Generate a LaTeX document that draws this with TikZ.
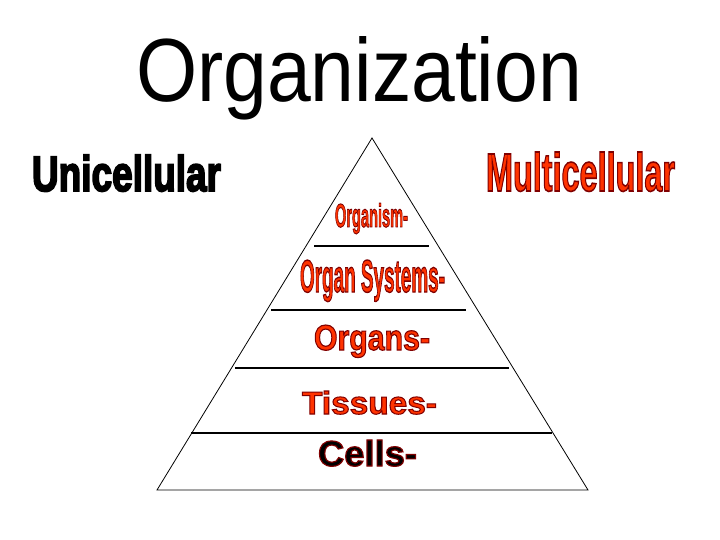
\documentclass[tikz,border=0pt]{standalone}
\usepackage{fontspec}
\setmainfont{Liberation Sans}
\usepackage{graphicx}
\newfontfamily\heavyf[FakeBold=4]{Liberation Sans Bold}
\newfontfamily\impactf[FakeBold=3]{Liberation Sans Bold}
\newfontfamily\blackf[FakeBold=3.2]{Liberation Sans Bold}
\definecolor{orred}{HTML}{FF3300}
\newcommand{\fitbox}[3]{\resizebox{#1bp}{#2bp}{#3}}
% fill colour #1, stroke (outline) colour given as PDF rgb triple #2, text #3
\newcommand{\outlined}[3]{{\color{#1}\special{pdf:literal direct #2 RG}#3}}
\tikzset{
  lbl/.style={anchor=base west, inner sep=0pt, outer sep=0pt},
  edge/.style={draw=black, line width=0.8pt},
  rung/.style={draw=black, line width=1.1pt}
}
\begin{document}
\begin{tikzpicture}[x=1bp,y=-1bp]
\useasboundingbox (0,0) rectangle (720,540);
\fill[white] (0,0) rectangle (720,540);
% title
\node[lbl] (title) at (136,102) {\fitbox{446}{65}{\fontsize{80}{90}\selectfont Organization}};
% side labels
\node[lbl] (uni) at (32,191) {\fitbox{189}{36}{\heavyf\fontsize{30}{30}\selectfont Unicellular}};
\node[lbl] (multi) at (486,191) {\fitbox{189}{39}{\outlined{orred}{0.5 0 0}{\impactf\fontsize{30}{30}\selectfont Multicellular}}};
% triangle
\coordinate (apex) at (372,138);
\coordinate (bl) at (157,490);
\coordinate (br) at (588,490);
\draw[edge] (bl) -- (apex) -- (br) -- cycle;
% rungs
\coordinate (r1a) at (314,246); \coordinate (r1b) at (429,246);
\coordinate (r2a) at (271,310); \coordinate (r2b) at (466,310);
\coordinate (r3a) at (235,368); \coordinate (r3b) at (509,368);
\coordinate (r4a) at (191,433); \coordinate (r4b) at (552,433);
\draw[rung] (r1a) -- (r1b);
\draw[rung] (r2a) -- (r2b);
\draw[rung] (r3a) -- (r3b);
\draw[rung] (r4a) -- (r4b);
% levels
\node[lbl] (organism) at (335,227) {\fitbox{73}{24}{\outlined{orred}{0.5 0 0}{\impactf\fontsize{30}{30}\selectfont Organism-}}};
\node[lbl] (systems) at (300,292) {\fitbox{145}{32}{\outlined{orred}{0.5 0 0}{\impactf\fontsize{30}{30}\selectfont Organ Systems-}}};
\node[lbl] (organs) at (314,350) {\fitbox{116}{25}{\outlined{orred}{0.5 0 0}{\blackf\fontsize{30}{30}\selectfont Organs-}}};
\node[lbl] (tissues) at (302,414) {\fitbox{135}{23}{\outlined{orred}{0.5 0 0}{\blackf\fontsize{30}{30}\selectfont Tissues-}}};
\node[lbl] (cells) at (318,466) {\fitbox{99}{26}{\outlined{black}{0.5 0 0}{\blackf\fontsize{30}{30}\selectfont Cells-}}};
\end{tikzpicture}
\end{document}
